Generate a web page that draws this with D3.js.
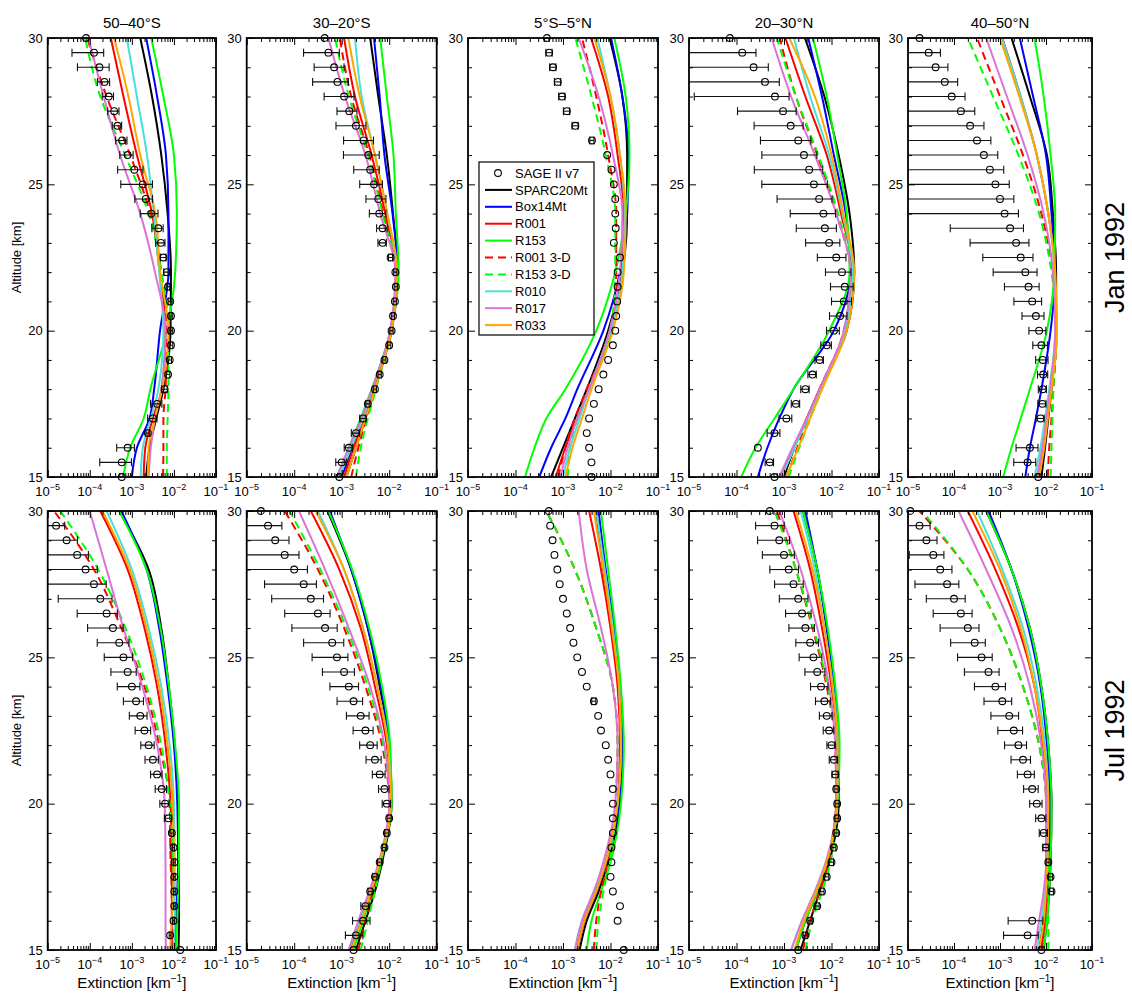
<!DOCTYPE html>
<html>
<head>
<meta charset="utf-8">
<script src="https://cdn.jsdelivr.net/npm/d3@7"></script>
<style>
  body { margin: 0; background: #fff; }
  svg text { font-family: "Liberation Sans", Arial, Helvetica, sans-serif; fill: #000; }
</style>
</head>
<body>
<svg id="chart" width="1132" height="993"></svg>
<script>
const altKnots = [15, 16, 17, 18, 20, 22, 24, 26, 28, 30];
const sageAlts = [15, 15.5, 16, 16.5, 17, 17.5, 18, 18.5, 19, 19.5, 20, 20.5, 21, 21.5, 22, 22.5,
                  23, 23.5, 24, 24.5, 25, 25.5, 26, 26.5, 27, 27.5, 28, 28.5, 29, 29.5, 30];

const seriesNames = ["SPARC20Mt", "Box14Mt", "R001", "R153", "R001 3-D", "R153 3-D", "R010", "R017", "R033"];
const bandTitles = ["50–40°S", "30–20°S", "5°S–5°N", "20–30°N", "40–50°N"];
const monthLabels = ["Jan 1992", "Jul 1992"];

// model profiles, log10(extinction [1/km]) at altKnots; rows follow seriesNames
const jan5040S = [
  [-2.66, -2.58, -2.42, -2.25, -2.08, -2.07, -2.15, -2.30, -2.52, -2.80],
  [-3.00, -2.88, -2.58, -2.47, -2.33, -2.13, -2.13, -2.19, -2.40, -2.66],
  [-2.72, -2.68, -2.50, -2.29, -2.20, -2.34, -2.52, -2.88, -3.20, -3.50],
  [-3.21, -3.04, -2.72, -2.56, -2.17, -1.97, -1.93, -2.00, -2.25, -2.54],
  [-2.26, -2.25, -2.25, -2.20, -2.17, -2.30, -2.56, -3.04, -3.60, -4.06],
  [-2.17, -2.17, -2.15, -2.13, -2.13, -2.30, -2.60, -3.16, -3.75, -4.11],
  [-2.79, -2.74, -2.55, -2.37, -2.25, -2.35, -2.48, -2.64, -2.88, -3.12],
  [-2.60, -2.55, -2.45, -2.30, -2.20, -2.45, -2.80, -3.28, -3.67, -4.03],
  [-2.62, -2.60, -2.45, -2.28, -2.13, -2.33, -2.44, -2.80, -3.08, -3.42]
];
const jan3020S = [
  [-2.90, -2.70, -2.50, -2.30, -1.95, -1.82, -1.92, -2.05, -2.23, -2.40],
  [-3.00, -2.78, -2.55, -2.33, -1.97, -1.82, -1.93, -2.10, -2.20, -2.32],
  [-2.95, -2.75, -2.52, -2.32, -1.97, -1.85, -2.08, -2.37, -2.72, -2.95],
  [-3.10, -2.85, -2.60, -2.37, -1.97, -1.80, -1.86, -1.91, -2.05, -2.19],
  [-2.80, -2.65, -2.48, -2.30, -1.97, -1.86, -2.12, -2.42, -2.80, -3.04],
  [-2.70, -2.60, -2.45, -2.28, -1.95, -1.86, -2.14, -2.45, -2.85, -3.14],
  [-3.05, -2.80, -2.55, -2.35, -1.98, -1.85, -2.04, -2.30, -2.58, -2.72],
  [-3.10, -2.85, -2.58, -2.36, -1.98, -1.87, -2.19, -2.50, -2.93, -3.28],
  [-2.90, -2.70, -2.50, -2.30, -1.95, -1.83, -2.04, -2.30, -2.62, -2.86]
];
const jan5S5N = [
  [-3.25, -3.00, -2.75, -2.50, -2.05, -1.75, -1.65, -1.65, -1.75, -2.02],
  [-3.50, -3.25, -2.95, -2.70, -2.15, -1.80, -1.65, -1.62, -1.75, -1.99],
  [-3.15, -2.95, -2.70, -2.45, -2.00, -1.75, -1.72, -1.85, -2.05, -2.41],
  [-3.80, -3.60, -3.35, -2.95, -2.30, -1.90, -1.68, -1.60, -1.68, -1.92],
  [-3.10, -2.95, -2.75, -2.50, -1.98, -1.88, -1.88, -2.05, -2.30, -2.60],
  [-2.90, -2.85, -2.70, -2.45, -2.00, -1.90, -1.90, -2.10, -2.40, -2.74],
  [-3.00, -2.85, -2.65, -2.45, -2.00, -1.75, -1.70, -1.80, -2.00, -2.28],
  [-3.05, -2.90, -2.70, -2.45, -2.02, -1.80, -1.75, -1.95, -2.25, -2.67],
  [-2.95, -2.80, -2.60, -2.40, -1.95, -1.72, -1.68, -1.80, -2.00, -2.34]
];
const jan2030N = [
  [-3.00, -2.78, -2.52, -2.25, -1.68, -1.52, -1.62, -1.85, -2.15, -2.56],
  [-3.55, -3.35, -3.10, -2.80, -1.95, -1.60, -1.70, -1.95, -2.20, -2.49],
  [-3.05, -2.80, -2.52, -2.25, -1.72, -1.55, -1.80, -2.10, -2.55, -2.97],
  [-3.90, -3.60, -3.20, -2.80, -2.05, -1.62, -1.68, -1.88, -2.10, -2.39],
  [-2.95, -2.72, -2.50, -2.25, -1.74, -1.60, -1.90, -2.30, -2.75, -3.09],
  [-2.90, -2.68, -2.45, -2.20, -1.72, -1.60, -1.86, -2.28, -2.75, -3.15],
  [-3.05, -2.78, -2.50, -2.22, -1.72, -1.55, -1.77, -2.05, -2.45, -2.79],
  [-3.10, -2.82, -2.52, -2.25, -1.74, -1.60, -1.90, -2.35, -2.85, -3.26],
  [-2.95, -2.70, -2.45, -2.20, -1.68, -1.52, -1.75, -2.00, -2.35, -2.89]
];
const jan4050N = [
  [-2.10, -2.02, -1.95, -1.88, -1.78, -1.78, -1.85, -1.98, -2.35, -2.75],
  [-2.45, -2.35, -2.22, -2.10, -1.90, -1.80, -1.88, -2.00, -2.28, -2.57],
  [-2.15, -2.05, -1.97, -1.90, -1.78, -1.80, -1.95, -2.20, -2.55, -2.95],
  [-2.93, -2.75, -2.55, -2.35, -1.98, -1.82, -1.80, -1.90, -2.05, -2.25],
  [-1.96, -1.93, -1.88, -1.84, -1.77, -1.85, -2.10, -2.50, -3.00, -3.50],
  [-1.90, -1.88, -1.86, -1.84, -1.78, -1.88, -2.15, -2.60, -3.15, -3.70],
  [-2.25, -2.12, -2.02, -1.93, -1.80, -1.82, -1.95, -2.20, -2.55, -2.96],
  [-2.20, -2.08, -1.99, -1.91, -1.80, -1.85, -2.05, -2.40, -2.85, -3.30],
  [-2.15, -2.04, -1.96, -1.88, -1.76, -1.80, -1.95, -2.20, -2.58, -3.00]
];
const jul5040S = [
  [-1.89, -1.88, -1.88, -1.88, -1.90, -1.98, -2.12, -2.30, -2.60, -3.30],
  [-1.97, -1.95, -1.92, -1.90, -1.92, -2.00, -2.15, -2.35, -2.65, -3.25],
  [-2.05, -2.05, -2.05, -2.05, -2.08, -2.20, -2.40, -2.70, -3.10, -3.75],
  [-1.95, -1.92, -1.90, -1.88, -1.88, -1.97, -2.12, -2.32, -2.65, -3.30],
  [-2.05, -2.05, -2.05, -2.08, -2.10, -2.35, -2.70, -3.25, -3.90, -4.85],
  [-2.00, -2.00, -2.00, -2.02, -2.10, -2.30, -2.65, -3.15, -3.80, -4.70],
  [-2.00, -1.98, -1.98, -1.98, -2.00, -2.10, -2.30, -2.60, -3.00, -3.60],
  [-2.19, -2.20, -2.20, -2.20, -2.22, -2.40, -2.75, -3.20, -3.60, -4.00],
  [-2.09, -2.05, -2.02, -2.00, -2.03, -2.15, -2.35, -2.65, -3.05, -3.70]
];
const jul3020S = [
  [-2.70, -2.50, -2.30, -2.15, -1.95, -2.00, -2.20, -2.45, -2.80, -3.30],
  [-2.85, -2.62, -2.40, -2.20, -1.97, -2.00, -2.18, -2.45, -2.80, -3.25],
  [-2.80, -2.60, -2.40, -2.20, -1.97, -2.05, -2.30, -2.60, -3.05, -3.65],
  [-2.75, -2.55, -2.35, -2.18, -1.95, -1.98, -2.15, -2.42, -2.78, -3.28],
  [-2.65, -2.50, -2.35, -2.20, -2.00, -2.15, -2.50, -2.95, -3.50, -4.20],
  [-2.60, -2.45, -2.30, -2.17, -1.98, -2.12, -2.45, -2.90, -3.45, -4.10],
  [-2.85, -2.62, -2.40, -2.20, -1.97, -2.02, -2.25, -2.55, -2.95, -3.50],
  [-2.85, -2.65, -2.42, -2.22, -2.00, -2.10, -2.40, -2.85, -3.35, -3.90],
  [-2.80, -2.58, -2.38, -2.20, -1.97, -2.03, -2.25, -2.55, -2.95, -3.55]
];
const jul5S5N = [
  [-2.65, -2.50, -2.25, -2.05, -1.80, -1.75, -1.80, -1.95, -2.15, -2.30],
  [-2.70, -2.55, -2.30, -2.10, -1.82, -1.75, -1.80, -1.92, -2.10, -2.25],
  [-2.70, -2.55, -2.30, -2.10, -1.85, -1.80, -1.85, -2.00, -2.20, -2.45],
  [-2.50, -2.40, -2.20, -2.00, -1.78, -1.72, -1.78, -1.90, -2.05, -2.20],
  [-2.35, -2.30, -2.20, -2.05, -1.90, -1.85, -1.95, -2.30, -2.75, -3.35],
  [-2.30, -2.25, -2.15, -2.02, -1.88, -1.85, -1.95, -2.30, -2.75, -3.35],
  [-2.75, -2.60, -2.35, -2.10, -1.85, -1.78, -1.82, -1.95, -2.12, -2.30],
  [-2.75, -2.60, -2.35, -2.15, -1.90, -1.85, -1.95, -2.20, -2.50, -2.67],
  [-2.70, -2.55, -2.30, -2.10, -1.85, -1.78, -1.82, -1.97, -2.15, -2.35]
];
const jul2030N = [
  [-2.65, -2.45, -2.25, -2.05, -1.85, -1.85, -1.95, -2.10, -2.30, -2.60],
  [-2.75, -2.55, -2.30, -2.10, -1.87, -1.85, -1.95, -2.10, -2.30, -2.55],
  [-2.75, -2.55, -2.30, -2.10, -1.90, -1.88, -2.00, -2.20, -2.45, -2.80],
  [-2.75, -2.55, -2.30, -2.10, -1.87, -1.83, -1.92, -2.08, -2.30, -2.60],
  [-2.60, -2.45, -2.25, -2.05, -1.90, -1.92, -2.10, -2.40, -2.75, -3.15],
  [-2.55, -2.40, -2.20, -2.02, -1.88, -1.90, -2.08, -2.38, -2.75, -3.20],
  [-2.85, -2.62, -2.35, -2.12, -1.88, -1.87, -1.97, -2.15, -2.35, -2.65],
  [-2.85, -2.62, -2.35, -2.12, -1.90, -1.92, -2.05, -2.30, -2.65, -3.10],
  [-2.78, -2.58, -2.32, -2.10, -1.88, -1.87, -1.98, -2.15, -2.40, -2.75]
];
const jul4050N = [
  [-2.05, -1.98, -1.93, -1.90, -1.88, -1.95, -2.10, -2.35, -2.75, -3.30],
  [-2.15, -2.05, -1.98, -1.95, -1.92, -1.98, -2.12, -2.38, -2.75, -3.25],
  [-2.10, -2.02, -1.97, -1.95, -1.97, -2.07, -2.25, -2.60, -3.10, -3.70],
  [-2.05, -1.98, -1.93, -1.90, -1.88, -1.95, -2.10, -2.35, -2.75, -3.30],
  [-2.10, -2.05, -2.00, -2.00, -2.00, -2.15, -2.50, -3.00, -3.70, -4.75],
  [-1.95, -1.95, -1.95, -1.95, -1.98, -2.15, -2.50, -3.00, -3.70, -4.70],
  [-2.20, -2.10, -2.02, -1.98, -1.95, -2.02, -2.20, -2.50, -2.95, -3.50],
  [-2.25, -2.15, -2.05, -2.00, -2.00, -2.10, -2.35, -2.75, -3.30, -3.90],
  [-2.15, -2.05, -2.00, -1.97, -1.95, -2.05, -2.25, -2.55, -3.00, -3.60]
];

// SAGE II v7, log10(extinction) at sageAlts (null = no retrieval) and relative error
const sageJan5040S = [-3.24, -3.24, -3.10, -2.62, -2.50, -2.40, -2.22, -2.14, -2.10, -2.07, -2.07, -2.07, -2.09, -2.14, -2.17, -2.25,
  -2.31, -2.37, -2.54, -2.67, -2.74, -2.94, -3.10, -3.23, -3.34, -3.42, -3.55, -3.65, -3.77, -3.90, -4.09];
const errJan5040S = [0, 0.7, 0.45, 0.1, 0.25, 0.3, 0.15, 0.1, 0.1, 0.1, 0.1, 0.1, 0.1, 0.1, 0.15, 0.15,
  0.25, 0.3, 0.45, 0.45, 0.7, 0.6, 0.35, 0.3, 0.25, 0.3, 0.3, 0.32, 0.7, 0.7, 0];
const sageJan3020S = [-3.05, -3.00, -2.85, -2.70, -2.55, -2.45, -2.30, -2.20, -2.10, -2.00, -1.95, -1.92, -1.88, -1.86, -1.87, -1.97,
  -2.14, -2.14, -2.21, -2.23, -2.32, -2.40, -2.44, -2.54, -2.70, -2.84, -2.95, -3.09, -3.16, -3.28, -3.36];
const errJan3020S = [0, 0.25, 0.2, 0.2, 0.15, 0.1, 0.08, 0.08, 0.08, 0.08, 0.08, 0.08, 0.08, 0.08, 0.08, 0.1,
  0.2, 0.25, 0.38, 0.45, 0.5, 0.55, 0.7, 0.62, 0.62, 0.45, 0.62, 0.7, 0.62, 0.7, 0];
const sageJan5S5N = [-2.40, -2.40, -2.45, -2.50, -2.45, -2.35, -2.25, -2.15, -2.05, -1.95, -1.90, -1.88, -1.86, -1.85, -1.85, -1.80,
  -1.93, -1.89, -1.90, -1.90, -1.93, -1.98, -2.07, -2.39, -2.74, -2.92, -3.02, -3.11, -3.21, -3.29, -3.34];
const errJan5S5N = [0, 0, 0, 0, 0, 0, 0, 0, 0, 0, 0, 0, 0, 0, 0, 0,
  0, 0, 0, 0, 0, 0, 0, 0.1, 0.15, 0.15, 0.15, 0.15, 0.15, 0.15, 0.12];
const sageJan2030N = [-3.20, -3.30, -3.55, -3.20, -2.95, -2.75, -2.55, -2.40, -2.25, -2.10, -1.95, -1.82, -1.74, -1.72, -1.78, -1.90,
  -2.05, -2.14, -2.17, -2.26, -2.37, -2.47, -2.58, -2.70, -2.86, -3.02, -3.19, -3.40, -3.64, -3.88, -4.14];
const errJan2030N = [0, 0.2, 0, 0.3, 0.3, 0.2, 0.2, 0.2, 0.2, 0.25, 0.3, 0.4, 0.45, 0.5, 0.55, 0.6,
  0.68, 0.75, 0.8, 0.87, 0.92, 0.93, 0.87, 0.84, 0.83, 0.89, 0.98, 1.0, 1.04, 0.95, 0];
const sageJan4050N = [-2.17, -2.40, -2.35, null, -2.12, -2.08, -2.07, -2.06, -2.07, -2.10, -2.15, -2.22, -2.30, -2.38, -2.45, -2.55,
  -2.65, -2.78, -2.90, -3.00, -3.10, -3.22, -3.35, -3.50, -3.65, -3.85, -4.05, -4.20, -4.40, -4.55, -4.75];
const errJan4050N = [0, 0.5, 0.5, 0, 0.2, 0.2, 0.2, 0.25, 0.3, 0.35, 0.4, 0.5, 0.6, 0.7, 0.8, 0.85,
  0.9, 0.95, 1.0, 1.0, 1.0, 1.0, 1.0, 1.0, 1.0, 1.0, 0.95, 0.9, 0.85, 0.8, 0];
const sageJul5040S = [-1.85, -2.09, -2.01, -1.99, -1.99, -1.99, -1.99, -2.01, -2.05, -2.13, -2.21, -2.29, -2.40, -2.50, -2.60, -2.70,
  -2.80, -2.90, -3.00, -3.10, -3.20, -3.30, -3.45, -3.60, -3.75, -3.90, -4.10, -4.30, -4.55, -4.80, null];
const errJul5040S = [0, 0.05, 0.05, 0.05, 0.05, 0.05, 0.05, 0.05, 0.1, 0.2, 0.25, 0.3, 0.3, 0.35, 0.35, 0.4,
  0.45, 0.5, 0.55, 0.6, 0.65, 0.7, 0.75, 0.8, 0.9, 0.95, 0.9, 0.85, 0.8, 0.6, 0];
const sageJul3020S = [-2.75, -2.70, -2.55, -2.50, -2.40, -2.30, -2.20, -2.10, -2.05, -2.00, -2.05, -2.10, -2.20, -2.30, -2.40, -2.50,
  -2.60, -2.75, -2.85, -2.95, -3.10, -3.20, -3.35, -3.50, -3.65, -3.80, -4.00, -4.20, -4.40, -4.55, -4.70];
const errJul3020S = [0, 0.4, 0.4, 0.2, 0.1, 0.1, 0.1, 0.1, 0.1, 0.1, 0.2, 0.25, 0.3, 0.35, 0.4, 0.45,
  0.5, 0.55, 0.6, 0.65, 0.7, 0.75, 0.8, 0.8, 0.85, 0.85, 0.9, 1.0, 0.95, 0.95, 0];
const sageJul5S5N = [-1.72, null, -1.85, -1.80, -1.95, -2.00, -1.98, -1.98, -1.95, -1.95, -1.95, -1.95, -2.00, -2.05, -2.10, -2.20,
  -2.26, -2.35, -2.50, -2.60, -2.70, -2.78, -2.85, -2.92, -3.00, -3.07, -3.12, -3.18, -3.22, -3.27, -3.30];
const errJul5S5N = [0, 0, 0, 0, 0, 0, 0, 0, 0, 0, 0, 0, 0, 0, 0, 0,
  0, 0.1, 0, 0, 0, 0, 0, 0, 0, 0, 0, 0, 0, 0, 0];
const sageJul2030N = [-2.70, -2.55, -2.45, -2.30, -2.20, -2.10, -2.00, -1.95, -1.90, -1.88, -1.88, -1.90, -1.92, -1.95, -2.00, -2.05,
  -2.10, -2.15, -2.22, -2.30, -2.38, -2.45, -2.55, -2.62, -2.70, -2.80, -2.90, -3.00, -3.10, -3.20, -3.30];
const errJul2030N = [0, 0.1, 0.1, 0.1, 0.1, 0.1, 0.1, 0.1, 0.1, 0.1, 0.1, 0.1, 0.15, 0.2, 0.2, 0.25,
  0.3, 0.35, 0.4, 0.45, 0.5, 0.5, 0.55, 0.55, 0.6, 0.6, 0.6, 0.65, 0.65, 0.6, 0];
const sageJul4050N = [-2.10, -2.40, -2.30, null, -1.88, -1.90, -1.95, -2.00, -2.05, -2.10, -2.20, -2.30, -2.40, -2.50, -2.60, -2.70,
  -2.80, -2.95, -3.10, -3.25, -3.40, -3.55, -3.70, -3.85, -4.00, -4.15, -4.30, -4.45, -4.60, -4.75, -4.95];
const errJul4050N = [0, 0.7, 0.7, 0, 0.1, 0.1, 0.1, 0.15, 0.2, 0.25, 0.3, 0.35, 0.4, 0.45, 0.5, 0.55,
  0.6, 0.6, 0.65, 0.7, 0.7, 0.7, 0.75, 0.75, 0.75, 0.8, 0.8, 0.7, 0.7, 0.7, 0];

// styling / layout
const seriesColors = ["#000000", "#0000ff", "#ff0000", "#00ff00", "#ff0000", "#00ff00", "#48e0d8", "#dc72d6", "#ffa500"];
const seriesDashed = [false, false, false, false, true, true, false, false, false];
const colLeft = [47.7, 246.7, 468, 689, 908];
const colWidth = [168.3, 190, 190, 190, 184];
const rowTop = [38, 511];
const rowBottom = [477, 950];

const panels = [
  {row: 0, col: 0, model: jan5040S, sage: sageJan5040S, err: errJan5040S},
  {row: 0, col: 1, model: jan3020S, sage: sageJan3020S, err: errJan3020S},
  {row: 0, col: 2, model: jan5S5N, sage: sageJan5S5N, err: errJan5S5N, legend: true},
  {row: 0, col: 3, model: jan2030N, sage: sageJan2030N, err: errJan2030N},
  {row: 0, col: 4, model: jan4050N, sage: sageJan4050N, err: errJan4050N},
  {row: 1, col: 0, model: jul5040S, sage: sageJul5040S, err: errJul5040S},
  {row: 1, col: 1, model: jul3020S, sage: sageJul3020S, err: errJul3020S},
  {row: 1, col: 2, model: jul5S5N, sage: sageJul5S5N, err: errJul5S5N},
  {row: 1, col: 3, model: jul2030N, sage: sageJul2030N, err: errJul2030N},
  {row: 1, col: 4, model: jul4050N, sage: sageJul4050N, err: errJul4050N}
];

const svg = d3.select('#chart');
const xMajor = [1e-5, 1e-4, 1e-3, 1e-2, 1e-1];
const xMinor = [];
[1e-5, 1e-4, 1e-3, 1e-2].forEach(d => { for (let k = 2; k <= 9; k++) xMinor.push(d * k); });
const yMajor = [15, 20, 25, 30];
const yMinor = d3.range(16, 30).filter(v => v % 5 !== 0);

panels.forEach(drawPanel);

function drawPanel(p) {
  const L = colLeft[p.col], W = colWidth[p.col];
  const T = rowTop[p.row], H = rowBottom[p.row] - T;
  const x = d3.scaleLog().domain([1e-5, 1e-1]).range([0, W]);
  const y = d3.scaleLinear().domain([15, 30]).range([H, 0]);
  const g = svg.append('g').attr('transform', `translate(${L},${T})`);

  const clipId = `clip-${p.row}-${p.col}`;
  g.append('clipPath').attr('id', clipId)
    .append('rect').attr('width', W).attr('height', H);
  const plot = g.append('g').attr('clip-path', `url(#${clipId})`);

  const line = d3.line()
    .x(d => x(Math.pow(10, d[1])))
    .y(d => y(d[0]))
    .curve(d3.curveMonotoneY);

  p.model.forEach((vals, i) => {
    plot.append('path')
      .datum(altKnots.map((a, j) => [a, vals[j]]))
      .attr('d', line)
      .attr('fill', 'none')
      .attr('stroke', seriesColors[i])
      .attr('stroke-width', 2)
      .attr('stroke-dasharray', seriesDashed[i] ? '8,5' : null);
  });

  // SAGE points + error bars
  const pts = sageAlts.map((a, j) => ({a: a, v: p.sage[j], r: p.err[j]})).filter(d => d.v !== null);
  pts.filter(d => d.r > 0).forEach(d => {
    const c = Math.pow(10, d.v);
    const lo = c * (1 - d.r), hi = c * (1 + d.r);
    const x0 = lo > 1e-5 ? x(lo) : -2;
    const x1 = x(hi);
    const yy = y(d.a);
    const bar = plot.append('g').attr('stroke', '#111').attr('stroke-width', 1.1);
    bar.append('line').attr('x1', x0).attr('x2', x1).attr('y1', yy).attr('y2', yy);
    if (x0 > 0) bar.append('line').attr('x1', x0).attr('x2', x0).attr('y1', yy - 4).attr('y2', yy + 4);
    bar.append('line').attr('x1', x1).attr('x2', x1).attr('y1', yy - 4).attr('y2', yy + 4);
  });
  g.append('g').selectAll('circle').data(pts).enter().append('circle')
    .attr('cx', d => x(Math.pow(10, d.v)))
    .attr('cy', d => y(d.a))
    .attr('r', 3.4)
    .attr('fill', 'none')
    .attr('stroke', '#000')
    .attr('stroke-width', 1.1);

  // ticks (inward) on all four sides
  const tickAxis = (axis, tx, ty) => {
    const a = g.append('g').attr('transform', `translate(${tx},${ty})`).call(axis);
    a.select('.domain').remove();
    a.selectAll('text').remove();
    a.selectAll('line').attr('stroke', '#000').attr('stroke-width', 1);
  };
  tickAxis(d3.axisBottom(x).tickValues(xMajor).tickSize(-7), 0, H);
  tickAxis(d3.axisBottom(x).tickValues(xMinor).tickSize(-4), 0, H);
  tickAxis(d3.axisTop(x).tickValues(xMajor).tickSize(-7), 0, 0);
  tickAxis(d3.axisTop(x).tickValues(xMinor).tickSize(-4), 0, 0);
  tickAxis(d3.axisLeft(y).tickValues(yMajor).tickSize(-7), 0, 0);
  tickAxis(d3.axisLeft(y).tickValues(yMinor).tickSize(-4), 0, 0);
  tickAxis(d3.axisRight(y).tickValues(yMajor).tickSize(-7), W, 0);
  tickAxis(d3.axisRight(y).tickValues(yMinor).tickSize(-4), W, 0);

  g.append('rect').attr('width', W).attr('height', H)
    .attr('fill', 'none').attr('stroke', '#000').attr('stroke-width', 1.8);

  // tick labels
  g.selectAll('.ylab').data(yMajor).enter().append('text')
    .attr('x', -5).attr('y', d => y(d)).attr('dy', '0.36em')
    .attr('text-anchor', 'end').attr('font-size', 13).text(d => d);

  const xl = g.selectAll('.xlab').data(xMajor).enter().append('text')
    .attr('x', d => x(d)).attr('y', H + 19)
    .attr('text-anchor', 'middle').attr('font-size', 13);
  xl.append('tspan').text('10');
  xl.append('tspan').attr('dy', -6).attr('font-size', 9).text(d => '−' + Math.round(-Math.log10(d)));

  if (p.row === 0) {
    g.append('text').attr('x', W / 2).attr('y', -10).attr('text-anchor', 'middle')
      .attr('font-size', 15).text(bandTitles[p.col]);
  }
  if (p.row === 1) {
    const t = g.append('text').attr('x', W / 2).attr('y', H + 38).attr('text-anchor', 'middle').attr('font-size', 15);
    t.append('tspan').text('Extinction [km');
    t.append('tspan').attr('dy', -6).attr('font-size', 10).text('−1');
    t.append('tspan').attr('dy', 6).text(']');
  }
  if (p.col === 0) {
    g.append('text').attr('transform', `translate(${-27},${H / 2}) rotate(-90)`)
      .attr('text-anchor', 'middle').attr('font-size', 13).text('Altitude [km]');
  }
  if (p.col === 4) {
    svg.append('text').attr('transform', `translate(${1124},${T + H / 2}) rotate(-90)`)
      .attr('text-anchor', 'middle').attr('font-size', 27).text(monthLabels[p.row]);
  }
  if (p.legend) drawLegend(g);
}

function drawLegend(g) {
  const lx = 11, ly = 124, lw = 115, lh = 173, step = 16.9;
  const lg = g.append('g').attr('transform', `translate(${lx},${ly})`);
  lg.append('rect').attr('width', lw).attr('height', lh)
    .attr('fill', '#fff').attr('stroke', '#000').attr('stroke-width', 1.2);
  const entries = ['SAGE II v7'].concat(seriesNames);
  entries.forEach((name, i) => {
    const yy = 11 + i * step;
    if (i === 0) {
      lg.append('circle').attr('cx', 19).attr('cy', yy).attr('r', 3.4)
        .attr('fill', 'none').attr('stroke', '#000').attr('stroke-width', 1.1);
    } else {
      lg.append('line').attr('x1', 6).attr('x2', 33).attr('y1', yy).attr('y2', yy)
        .attr('stroke', seriesColors[i - 1]).attr('stroke-width', 2)
        .attr('stroke-dasharray', seriesDashed[i - 1] ? '8,5' : null);
    }
    lg.append('text').attr('x', 36).attr('y', yy).attr('dy', '0.36em')
      .attr('font-size', 13).text(name);
  });
}
</script>
</body>
</html>
